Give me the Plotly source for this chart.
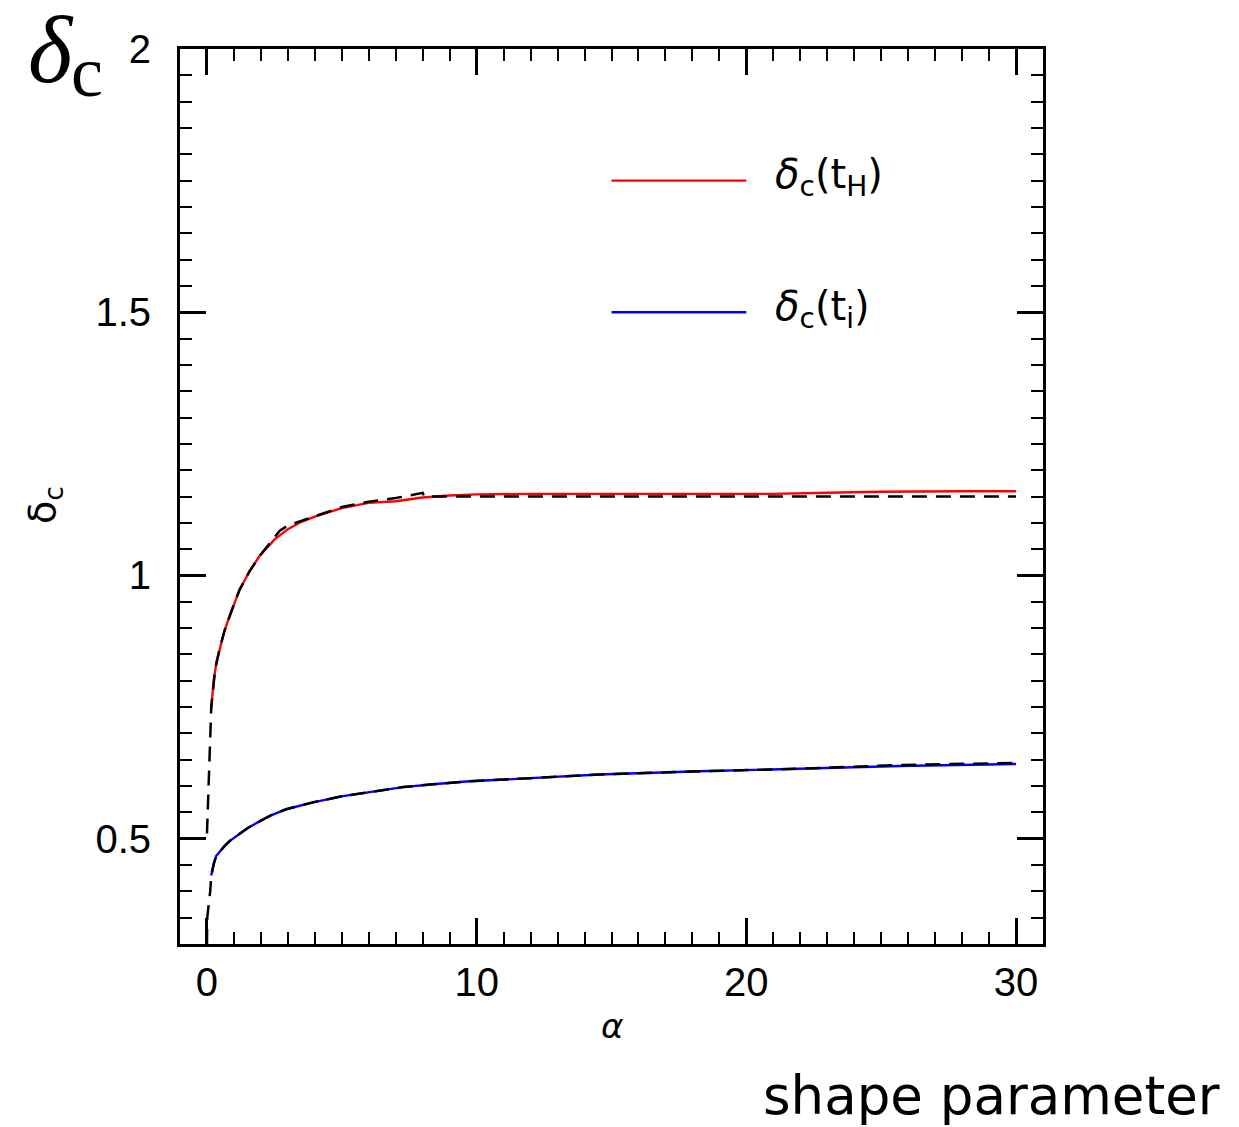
import plotly.graph_objects as go

# delta_c(t_H) numerical curve (red)
alpha_H = [0.16, 0.25, 0.35, 0.46, 0.65, 0.84, 1.0, 1.21, 1.58, 1.95, 2.5, 3.0, 3.5, 4.0,
           5.0, 6.0, 7.0, 8.0, 9.0, 10, 12, 15, 18, 20, 21, 23, 25, 28, 30]
delta_H = [0.749, 0.80, 0.835, 0.859, 0.895, 0.923, 0.945, 0.973, 1.008, 1.037, 1.068, 1.088,
           1.102, 1.112, 1.128, 1.138, 1.141, 1.148, 1.152, 1.154, 1.155, 1.155, 1.155, 1.154,
           1.155, 1.157, 1.159, 1.160, 1.160]

# fit to delta_c(t_H) (black dashed)
alpha_fitH = [0.0, 0.04, 0.07, 0.12, 0.16, 0.3, 0.46, 0.65, 0.84, 1.0, 1.21, 1.58, 1.95, 2.3,
              2.7, 3.0, 3.5, 4.0, 5.0, 6.0, 7.0, 8.0, 8.05, 30]
delta_fitH = [0.51, 0.57, 0.625, 0.715, 0.75, 0.82, 0.859, 0.895, 0.923, 0.945, 0.973, 1.008,
              1.037, 1.060, 1.085, 1.095, 1.104, 1.113, 1.130, 1.140, 1.147, 1.157, 1.150, 1.150]

# delta_c(t_i) numerical curve (blue)
alpha_i = [0.16, 0.25, 0.34, 0.5, 0.65, 0.85, 1.08, 1.5, 1.95, 2.4, 2.94, 3.93, 5.04, 6.03,
           7.27, 8.5, 9.74, 12, 14.56, 18.27, 21.98, 25.7, 30]
delta_i = [0.430, 0.452, 0.467, 0.478, 0.486, 0.496, 0.505, 0.520, 0.533, 0.545, 0.556, 0.569,
           0.581, 0.589, 0.598, 0.604, 0.609, 0.615, 0.622, 0.628, 0.633, 0.638, 0.642]

# fit to delta_c(t_i) (black dashed)
alpha_fiti = [0.0, 0.01, 0.07, 0.12, 0.16, 0.25, 0.34, 0.5, 0.65, 0.85, 1.08, 1.5, 1.95, 2.4,
              2.94, 3.93, 5.04, 6.03, 7.27, 8.5, 9.74, 12, 14.56, 18.27, 21.98, 25.7, 30]
delta_fiti = [0.30, 0.35, 0.378, 0.40, 0.43, 0.452, 0.467, 0.478, 0.486, 0.496, 0.505, 0.520,
              0.533, 0.545, 0.556, 0.569, 0.581, 0.589, 0.598, 0.604, 0.609, 0.615, 0.622,
              0.628, 0.633, 0.640, 0.644]

x_ticks = [0, 10, 20, 30]
y_ticks = [0.5, 1, 1.5, 2]
y_ticklabels = ["0.5", "1", "1.5", "2"]

fig = go.Figure()
fig.add_trace(go.Scatter(x=alpha_H, y=delta_H, mode="lines",
                         line=dict(color="#ff0000", width=2.4), showlegend=False))
fig.add_trace(go.Scatter(x=alpha_i, y=delta_i, mode="lines",
                         line=dict(color="#0000ff", width=2.4), showlegend=False))
fig.add_trace(go.Scatter(x=alpha_fitH, y=delta_fitH, mode="lines",
                         line=dict(color="black", width=2.5, dash="15px,9px"), showlegend=False))
fig.add_trace(go.Scatter(x=alpha_fiti, y=delta_fiti, mode="lines",
                         line=dict(color="black", width=2.5, dash="15px,9px"), showlegend=False))

tickfont = dict(family="Liberation Sans", size=40, color="black")

fig.update_xaxes(range=[-1, 31], tickvals=x_ticks, ticktext=[str(v) for v in x_ticks],
                 ticks="inside", ticklen=26, tickwidth=2.5, tickcolor="black",
                 showline=True, linewidth=3, linecolor="black", mirror="ticks",
                 showgrid=False, zeroline=False, tickfont=tickfont, ticklabelstandoff=1,
                 minor=dict(dtick=1, tick0=0, ticks="inside", ticklen=12, tickwidth=2,
                            tickcolor="black", showgrid=False))
fig.update_yaxes(range=[0.3, 2.0], tickvals=y_ticks, ticktext=y_ticklabels,
                 ticks="inside", ticklen=26, tickwidth=2.5, tickcolor="black",
                 showline=True, linewidth=3, linecolor="black", mirror="ticks",
                 showgrid=False, zeroline=False, tickfont=tickfont, ticklabelstandoff=18,
                 minor=dict(dtick=0.05, tick0=0, ticks="inside", ticklen=12, tickwidth=2,
                            tickcolor="black", showgrid=False))

# legend drawn as shapes + labels
fig.add_shape(type="line", x0=15, x1=20, y0=1.75, y1=1.75, xref="x", yref="y",
              line=dict(color="#ff0000", width=2.4))
fig.add_shape(type="line", x0=15, x1=20, y0=1.5, y1=1.5, xref="x", yref="y",
              line=dict(color="#0000ff", width=2.4))
legfont = dict(family="DejaVu Sans", size=40, color="black")
fig.add_annotation(x=21.0, y=1.757, xref="x", yref="y", xanchor="left", yanchor="middle",
                   text="<i>δ</i><sub>c</sub>(t<sub>H</sub>)", showarrow=False, font=legfont)
fig.add_annotation(x=21.0, y=1.507, xref="x", yref="y", xanchor="left", yanchor="middle",
                   text="<i>δ</i><sub>c</sub>(t<sub>i</sub>)", showarrow=False, font=legfont)

# axis titles
fig.add_annotation(x=0.5, y=-0.092, xref="paper", yref="paper", xanchor="center", yanchor="middle",
                   text="<i>α</i>", showarrow=False,
                   font=dict(family="DejaVu Sans", size=34, color="black"))
fig.add_annotation(x=-0.157, y=0.49, xref="paper", yref="paper", xanchor="center", yanchor="middle",
                   text="δ<sub>c</sub>", textangle=-90, showarrow=False,
                   font=dict(family="DejaVu Sans", size=38, color="black"))

# big delta_c top-left
fig.add_annotation(x=-0.150, y=0.999, xref="paper", yref="paper", xanchor="center", yanchor="middle",
                   text="<i>δ</i>", showarrow=False,
                   font=dict(family="Liberation Serif", size=95, color="black"))
fig.add_annotation(x=-0.108, y=(944 - 72) / 895, xref="paper", yref="paper", xanchor="center",
                   yanchor="middle", text="c", showarrow=False,
                   font=dict(family="Liberation Serif", size=72, color="black"))

# bottom-right caption
fig.add_annotation(x=0.940, y=-0.169, xref="paper", yref="paper", xanchor="center", yanchor="middle",
                   text="shape parameter", showarrow=False,
                   font=dict(family="DejaVu Sans", size=53, color="black"))

fig.update_layout(width=1223, height=1119, margin=dict(l=172, r=188, t=41, b=183),
                  plot_bgcolor="white", paper_bgcolor="white", showlegend=False)

fig.write_html("out.html")
